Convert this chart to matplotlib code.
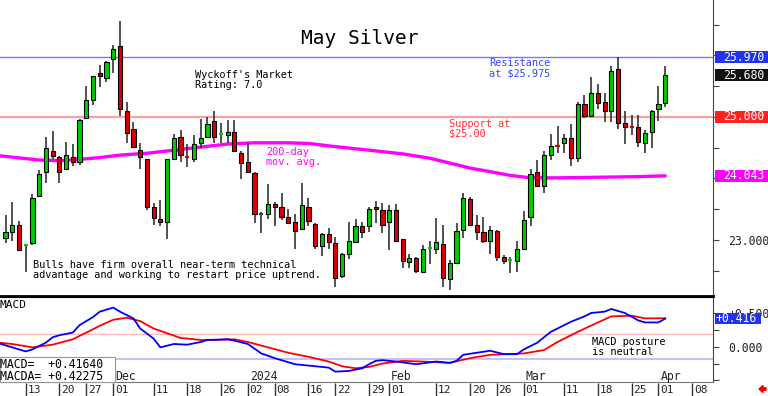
import numpy as np
import pandas as pd
import matplotlib.pyplot as plt
from matplotlib.patches import Rectangle, FancyArrow
from matplotlib.ticker import MultipleLocator, FuncFormatter
from matplotlib.transforms import blended_transform_factory, IdentityTransform

plt.rcParams['font.family'] = 'DejaVu Sans Mono'

# trading calendar (COMEX closed on these days)
holidays = pd.to_datetime(['2023-11-23', '2023-12-25', '2024-01-01',
                           '2024-01-15', '2024-02-19', '2024-03-29'])
days = pd.bdate_range('2023-11-08', '2024-04-12')
days = days[~days.isin(holidays)]

# daily candles, Nov 8 2023 .. Apr 2 2024
opens = [23.03, 23.13, 23.25, 22.91, 22.95, 23.72, 24.11, 24.45, 24.35, 24.15,
         24.35, 24.27, 24.99, 25.28, 25.72, 25.64, 25.94, 26.15, 25.10, 24.80,
         24.46, 24.31, 23.53, 23.34, 23.29, 24.31, 24.68, 24.36, 24.31, 24.58,
         24.67, 24.93, 24.72, 24.71, 24.76, 24.41, 24.27, 24.09, 23.42, 23.43,
         23.58, 23.53, 23.38, 23.30, 23.18, 23.54, 23.26, 22.91, 23.09, 22.95,
         22.42, 22.78, 22.97, 23.23, 23.23, 23.53, 23.49, 23.30, 23.48, 23.02,
         22.64, 22.70, 22.48, 22.86, 22.85, 22.93, 22.36, 22.62, 23.17, 23.67,
         23.24, 23.13, 22.99, 23.15, 22.72, 22.66, 22.66, 22.86, 23.37, 24.10,
         23.88, 24.38, 24.53, 24.57, 24.66, 24.33, 25.21, 25.02, 25.39, 25.24,
         25.09, 25.78, 24.91, 24.84, 24.83, 24.58, 24.76, 25.13, 25.22]
highs = [23.41, 23.61, 23.31, 22.93, 23.74, 24.14, 24.68, 24.78, 24.36, 24.59,
         24.56, 24.96, 25.50, 25.67, 25.85, 25.91, 26.17, 26.56, 25.25, 24.92,
         24.57, 24.32, 23.60, 23.65, 24.32, 24.73, 24.79, 24.56, 24.71, 24.96,
         25.00, 25.10, 24.90, 24.95, 24.95, 24.44, 24.57, 24.10, 23.46, 23.91,
         23.61, 23.76, 23.50, 23.43, 23.92, 23.69, 23.27, 23.12, 23.19, 23.05,
         22.79, 23.29, 23.34, 23.30, 23.54, 23.64, 23.60, 23.57, 23.58, 23.02,
         22.77, 22.73, 22.92, 22.99, 23.35, 23.24, 22.67, 23.28, 23.76, 23.70,
         23.41, 23.38, 23.22, 23.16, 22.76, 22.73, 22.98, 23.47, 24.15, 24.30,
         24.45, 24.72, 24.85, 24.72, 24.89, 25.25, 25.36, 25.65, 25.53, 25.39,
         25.83, 25.97, 25.10, 25.03, 25.03, 24.79, 25.11, 25.50, 25.83]
lows = [22.95, 22.99, 22.82, 22.48, 22.92, 23.70, 23.92, 24.32, 23.92, 24.14,
        24.20, 24.22, 24.98, 25.20, 25.49, 25.57, 25.72, 25.02, 24.57, 24.50,
        24.15, 23.49, 23.24, 23.22, 23.01, 24.30, 24.27, 24.18, 24.26, 24.49,
        24.66, 24.57, 24.57, 24.57, 24.44, 23.99, 24.10, 23.27, 23.11, 23.34,
        23.23, 23.33, 23.27, 22.85, 23.16, 23.22, 22.86, 22.74, 22.86, 22.24,
        22.38, 22.69, 22.96, 23.03, 23.13, 23.27, 23.11, 22.83, 22.97, 22.54,
        22.55, 22.47, 22.47, 22.61, 22.77, 22.23, 22.19, 22.61, 23.04, 23.24,
        23.00, 22.95, 22.78, 22.65, 22.61, 22.46, 22.48, 22.85, 23.22, 23.87,
        23.77, 24.30, 24.42, 24.42, 24.20, 24.26, 24.99, 25.00, 25.13, 24.92,
        24.92, 24.80, 24.56, 24.71, 24.51, 24.42, 24.49, 24.94, 25.17]
closes = [23.13, 23.24, 22.83, 22.92, 23.68, 24.08, 24.49, 24.37, 24.11, 24.38,
          24.27, 24.95, 25.27, 25.66, 25.66, 25.90, 26.10, 25.13, 24.74, 24.51,
          24.35, 23.53, 23.35, 23.29, 24.31, 24.66, 24.38, 24.35, 24.56, 24.65,
          24.88, 24.68, 24.73, 24.76, 24.45, 24.25, 24.11, 23.42, 23.42, 23.58,
          23.53, 23.38, 23.28, 23.15, 23.57, 23.31, 22.91, 23.09, 22.96, 22.38,
          22.78, 22.98, 23.22, 23.13, 23.51, 23.50, 23.25, 23.48, 22.98, 22.65,
          22.70, 22.50, 22.86, 22.87, 22.96, 22.38, 22.62, 23.15, 23.68, 23.25,
          23.13, 22.99, 23.17, 22.73, 22.65, 22.67, 22.86, 23.33, 24.08, 23.88,
          24.38, 24.53, 24.52, 24.66, 24.33, 25.21, 25.02, 25.39, 25.23, 25.09,
          25.75, 24.91, 24.83, 24.83, 24.60, 24.74, 25.09, 25.21, 25.68]

# 200-day moving average (trading-day index, value)
ma_idx = [-1, 5, 8, 11, 14, 17, 21, 25, 29, 33, 37, 42, 45, 48, 54, 59, 63,
          66, 69, 72, 75, 78, 82, 88, 94, 98]
ma_val = [24.37, 24.30, 24.29, 24.31, 24.34, 24.38, 24.41, 24.46, 24.51, 24.56,
          24.58, 24.58, 24.57, 24.53, 24.46, 24.40, 24.33, 24.25, 24.17, 24.11,
          24.05, 24.01, 24.01, 24.02, 24.03, 24.043]

# MACD (blue) and MACD average (red)
macd_idx = [-1, 1, 3, 4, 6, 7, 8, 10, 11, 13, 14, 16, 17, 19, 20, 22, 23, 25,
            27, 29, 30, 33, 34, 36, 38, 40, 43, 45, 48, 49, 51, 53, 54, 55, 56,
            58, 61, 64, 66, 67, 68, 70, 72, 74, 76, 77, 79, 81, 83, 84, 86, 87,
            89, 90, 92, 94, 95, 97, 98]
macd_val = [0.05, -0.01, -0.07, -0.04, 0.06, 0.14, 0.17, 0.21, 0.32, 0.44,
            0.52, 0.58, 0.52, 0.42, 0.27, 0.12, -0.01, 0.04, 0.03, 0.07, 0.10,
            0.11, 0.09, 0.04, -0.10, -0.17, -0.26, -0.28, -0.31, -0.37, -0.36,
            -0.32, -0.26, -0.21, -0.20, -0.22, -0.26, -0.22, -0.24, -0.21,
            -0.12, -0.09, -0.06, -0.11, -0.11, -0.04, 0.06, 0.22, 0.32, 0.37,
            0.45, 0.50, 0.52, 0.56, 0.50, 0.39, 0.36, 0.36, 0.4164]
macda_idx = [-1, 1, 4, 7, 10, 12, 14, 16, 18, 20, 22, 24, 26, 29, 31, 34, 36,
             39, 42, 45, 48, 50, 52, 54, 56, 59, 62, 66, 69, 72, 75, 77, 80,
             82, 85, 88, 90, 93, 95, 98]
macda_val = [0.06, 0.04, -0.01, 0.03, 0.11, 0.21, 0.31, 0.40, 0.43, 0.38,
             0.27, 0.20, 0.13, 0.10, 0.10, 0.11, 0.07, -0.01, -0.09, -0.15,
             -0.22, -0.29, -0.32, -0.30, -0.25, -0.21, -0.22, -0.24, -0.17,
             -0.12, -0.11, -0.10, -0.05, 0.07, 0.22, 0.36, 0.45, 0.46, 0.42,
             0.42275]

resistance = 25.97
support = 25.00
macd_band = 0.185

day_ticks = ['2023-11-13', '2023-11-20', '2023-11-27', '2023-12-01',
             '2023-12-11', '2023-12-18', '2023-12-26', '2024-01-02',
             '2024-01-08', '2024-01-16', '2024-01-22', '2024-01-29',
             '2024-02-01', '2024-02-12', '2024-02-20', '2024-02-26',
             '2024-03-01', '2024-03-11', '2024-03-18', '2024-03-25',
             '2024-04-01', '2024-04-08']
month_names = ['Dec', '2024', 'Feb', 'Mar', 'Apr']
month_starts = ['2023-12-01', '2024-01-02', '2024-02-01', '2024-03-01', '2024-04-01']

GREEN = '#00cc00'
RED = '#dd0000'
BLUE = '#0000ff'
MAG = '#ff00ff'

W, H = 768, 396


def fxy(x, y):
    return x / W, 1 - y / H


def pos(d):
    return days.get_loc(pd.Timestamp(d))


fig = plt.figure(figsize=(W / 100, H / 100), dpi=100)
ax1 = fig.add_axes([0, 1 - 296 / H, 713 / W, 296 / H])
ax2 = fig.add_axes([0, 1 - 381.7 / H, 713 / W, 84.7 / H], sharex=ax1)
ax3 = fig.add_axes([0, 0, 713 / W, 13.5 / H], sharex=ax1)

x = np.arange(len(opens))
o = np.array(opens)
h = np.array(highs)
l = np.array(lows)
c = np.array(closes)

# price panel
ax1.axhline(resistance, color='#7777ff', lw=1, zorder=1)
ax1.axhline(support, color='#ffa0a0', lw=1.6, zorder=1)
ax1.plot(ma_idx, ma_val, color=MAG, lw=2.4, zorder=1.5, solid_capstyle='round')
ax1.vlines(x, l, h, color='#222222', lw=1.1, zorder=2)
up = c > o + 0.015
dn = c < o - 0.015
flat = ~(up | dn)
ax1.bar(x[up], (c - o)[up], bottom=o[up], width=0.62, color=GREEN,
        edgecolor='black', lw=0.8, zorder=3)
ax1.bar(x[dn], (c - o)[dn], bottom=o[dn], width=0.62, color=RED,
        edgecolor='black', lw=0.8, zorder=3)
flat_cols = [GREEN if cc > oo else (RED if cc < oo else '#444444')
             for oo, cc in zip(o[flat], c[flat])]
ax1.hlines(c[flat], x[flat] - 0.3, x[flat] + 0.3, colors=flat_cols, lw=1.6, zorder=3)

ax1.set_xlim(-0.82, 105.1)
ax1.set_ylim(26.902 - 296 / 61.5, 26.902)

# MACD panel
ax2.axhline(macd_band, color='#ffb8b8', lw=1, zorder=1)
ax2.axhline(-macd_band, color='#c0c0ff', lw=1.4, zorder=1)
ax2.plot(macda_idx, macda_val, color='#ff0000', lw=1.3, zorder=3)
ax2.plot(macd_idx, macd_val, color=BLUE, lw=1.3, zorder=3)
ax2.set_ylim((346.7 - 381.7) / 67.4, (346.7 - 297) / 67.4)

for ax in (ax1, ax2):
    for s in ('left', 'top'):
        ax.spines[s].set_visible(False)
    ax.spines['right'].set_color('#444444')
    ax.yaxis.tick_right()
    ax.tick_params(axis='x', bottom=False, labelbottom=False)
    ax.tick_params(axis='y', length=4, width=0.8, color='#444444', pad=7,
                   labelsize=8.3, labelcolor='#222222')
ax1.spines['bottom'].set_linewidth(2)
ax2.spines['top'].set_visible(True)
ax2.spines['top'].set_linewidth(1.5)
ax2.spines['bottom'].set_color('#777777')

# price labels that the value boxes would hide are left out
boxed = [resistance, closes[-1], support, ma_val[-1]]
ax1.yaxis.set_major_locator(MultipleLocator(0.5))
ax1.yaxis.set_major_formatter(FuncFormatter(
    lambda v, p: '%.3f' % v if abs(v - round(v)) < 1e-6
    and min(abs(v - b) for b in boxed) > 0.2 else ''))
ax2.yaxis.set_major_locator(MultipleLocator(0.25))
ax2.yaxis.set_major_formatter(FuncFormatter(
    lambda v, p: ('+%.3f' % v if v > 0 else '%.3f' % abs(v))
    if abs(v * 2 - round(v * 2)) < 1e-6 and v >= 0 else ''))


def value_box(ax, y, text, color, half, left=715, right=768, tx=723.5):
    tr = blended_transform_factory(fig.transFigure, ax.transData)
    fig.add_artist(Rectangle((left / W, y - half), (right - left) / W, 2 * half,
                             transform=tr, facecolor=color, edgecolor='none', zorder=5))
    fig.text(tx / W, y, text, transform=tr, color='white', fontsize=8.3,
             va='center', ha='left', zorder=6)


value_box(ax1, resistance, '%.3f' % resistance, '#2233ee', 0.1)
value_box(ax1, closes[-1], '%.3f' % closes[-1], '#111111', 0.095)
value_box(ax1, support, '%.3f' % support, '#ff2020', 0.095)
value_box(ax1, ma_val[-1], '%.3f' % ma_val[-1], MAG, 0.095)
value_box(ax2, macd_val[-1], '+%.3f' % macd_val[-1], '#2233ee', 0.087,
          left=715, right=761, tx=716)

# month labels inside the MACD panel
for name, d in zip(month_names, month_starts):
    ax2.text(pos(d) + 0.3, (346.7 - 376.7) / 67.4, name, fontsize=8.3,
             color='#222222', va='center', ha='left')

# date row
ax3.set_ylim(0, 1)
ax3.axis('off')
for d in day_ticks:
    i = pos(d)
    ax3.vlines(i, 0, 1, color='#333333', lw=1)
    ax3.text(i + 0.25, 0.45, '%02d' % pd.Timestamp(d).day, fontsize=8,
             color='#222222', va='center', ha='left')

# legend box for MACD values
fig.add_artist(Rectangle(fxy(0, 381.7), 115 / W, 24.4 / H, transform=fig.transFigure,
                         facecolor='white', edgecolor='#999999', lw=0.8, zorder=5))
fig.text(*fxy(0, 357.5), 'MACD=  %+.5f\nMACDA= %+.5f' % (macd_val[-1], macda_val[-1]),
         fontsize=8.3, va='top', ha='left', linespacing=0.95, zorder=6)

# annotations
fig.text(*fxy(360, 39), 'May Silver', fontsize=14, ha='center', va='center')
fig.text(*fxy(195, 70), "Wyckoff's Market\nRating: 7.0", fontsize=7.4,
         va='top', linespacing=1.0)
fig.text(*fxy(489, 58.5), 'Resistance\nat $25.975', fontsize=7.4,
         color='#3344ff', va='top', linespacing=1.0)
fig.text(*fxy(449, 119), 'Support at\n$25.00', fontsize=7.4,
         color='#ff3030', va='top', linespacing=1.0)
fig.text(*fxy(266, 147.5), '200-day\nmov. avg.', fontsize=7.4,
         color=MAG, va='top', linespacing=1.0)
fig.text(*fxy(33, 260), 'Bulls have firm overall near-term technical\n'
         'advantage and working to restart price uptrend.', fontsize=7.4,
         va='top', linespacing=1.0)
fig.text(*fxy(592, 337), 'MACD posture\nis neutral', fontsize=7.4,
         va='top', linespacing=1.0)
fig.text(*fxy(0, 300), 'MACD', fontsize=8, va='top')

fig.add_artist(FancyArrow(766, 7, -7, 0, width=2.5, head_width=7, head_length=4,
                          length_includes_head=True, color='#ee0000',
                          transform=IdentityTransform()))

fig.savefig('out.png', dpi=100)
